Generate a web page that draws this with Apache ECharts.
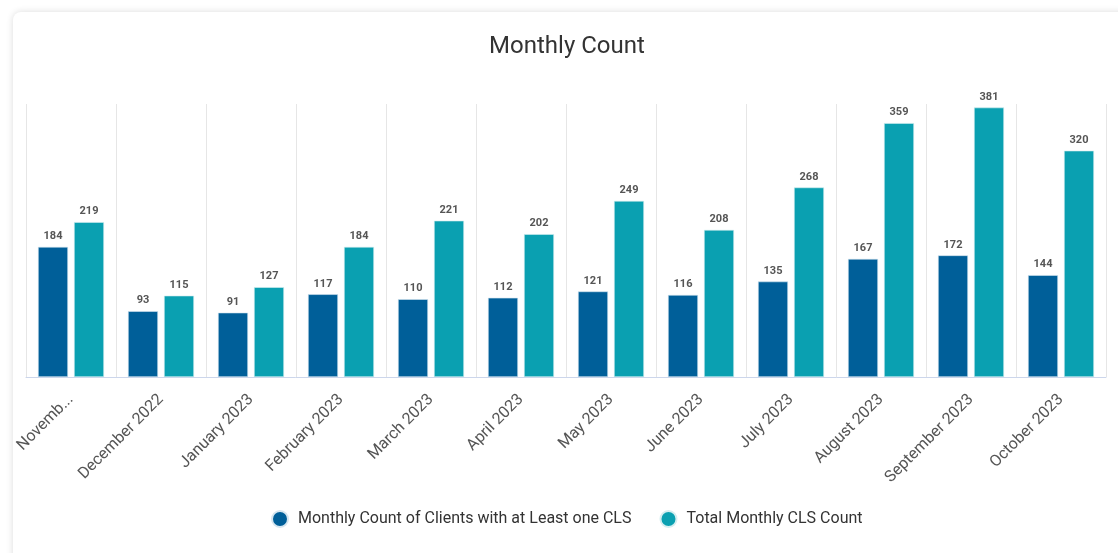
<!DOCTYPE html>
<html>
<head>
<meta charset="utf-8">
<title>Monthly Count</title>
<script src="https://cdn.jsdelivr.net/npm/echarts@6/dist/echarts.min.js"></script>
<style>
  html, body { margin: 0; padding: 0; background: #fff; }
  .card {
    position: absolute; left: 13px; top: 12px; width: 1120px; height: 560px;
    background: #fff; border-radius: 8px;
    box-shadow: 0 0 7px rgba(0,0,0,0.14);
  }
  #chart { position: absolute; left: 0; top: 0; width: 1118px; height: 553px; }
</style>
</head>
<body>
<div class="card"></div>
<div id="chart"></div>
<script>
// data
const months = ["November 2022", "December 2022", "January 2023", "February 2023", "March 2023", "April 2023",
  "May 2023", "June 2023", "July 2023", "August 2023", "September 2023", "October 2023"];
const clientCounts = [184, 93, 91, 117, 110, 112, 121, 116, 135, 167, 172, 144];
const clsCounts = [219, 115, 127, 184, 221, 202, 249, 208, 268, 359, 381, 320];

const fontFamily = "Roboto, 'Noto Sans', sans-serif";

let myChart = echarts.init(document.getElementById("chart"));
myChart.setOption({
  textStyle: { fontFamily: fontFamily },
  title: {
    text: "Monthly Count",
    left: 562,
    textAlign: "center",
    top: 30,
    textStyle: { fontSize: 24, fontWeight: "normal", color: "#333", fontFamily: fontFamily },
  },
  legend: {
    bottom: 25,
    left: 271,
    padding: 0,
    icon: "circle",
    itemWidth: 16,
    itemHeight: 16,
    itemGap: 28,
    textStyle: { fontSize: 16, color: "#333", padding: [0, 0, 0, 5] },
    data: ["Monthly Count of Clients with at Least one CLS", "Total Monthly CLS Count"],
  },
  grid: { left: 26, right: 12, top: 104, bottom: 176 },
  xAxis: {
    type: "category",
    data: months,
    axisTick: { show: false },
    axisLine: { lineStyle: { color: "#ccd6eb" } },
    splitLine: { show: true, lineStyle: { color: "#e6e6e6" } },
    axisLabel: {
      rotate: 45,
      interval: 0,
      margin: 20,
      fontSize: 16,
      color: "#555",
      formatter: function (val, idx) {
        // first label is clipped in the original
        return idx === 0 ? val.slice(0, 6) + "..." : val;
      },
    },
  },
  yAxis: {
    type: "value",
    min: 0,
    max: 386,
    show: false,
    splitLine: { show: false },
  },
  series: [
    {
      name: "Monthly Count of Clients with at Least one CLS",
      type: "bar",
      data: clientCounts,
      barWidth: 30,
      barGap: "20%",
      itemStyle: { color: "#005f99", borderColor: "#d5e6f0", borderWidth: 0.6 },
      label: { show: true, position: "top", distance: 5, fontSize: 11, fontWeight: "bold", color: "#555" },
    },
    {
      name: "Total Monthly CLS Count",
      type: "bar",
      data: clsCounts,
      barWidth: 30,
      itemStyle: { color: "#0aa0b1", borderColor: "#d5eef0", borderWidth: 0.6 },
      label: { show: true, position: "top", distance: 5, fontSize: 11, fontWeight: "bold", color: "#555" },
    },
  ],
});
</script>
</body>
</html>
